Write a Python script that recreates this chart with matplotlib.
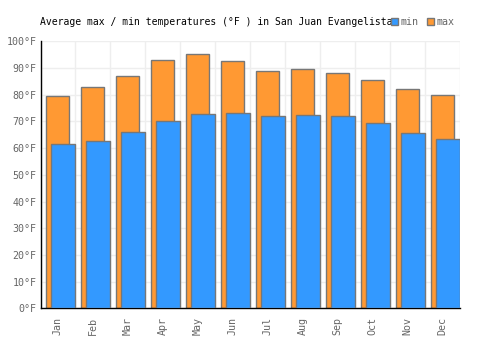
import matplotlib
matplotlib.use("Agg")
import matplotlib.pyplot as plt
import numpy as np
from matplotlib.patches import Patch

months = ["Jan", "Feb", "Mar", "Apr", "May", "Jun", "Jul", "Aug", "Sep", "Oct", "Nov", "Dec"]
max_temps = [79.4, 82.8, 86.9, 92.9, 95.1, 92.5, 88.8, 89.5, 88.0, 85.4, 82.0, 79.8]
min_temps = [61.4, 62.5, 65.9, 70.0, 72.7, 73.0, 71.9, 72.3, 71.9, 69.3, 65.5, 63.4]
yticks = list(range(0, 101, 10))

plt.rcParams['font.family'] = ['DejaVu Sans Mono']

fig = plt.figure(figsize=(5, 3.5), dpi=100)
ax = fig.add_axes([0.081, 0.119, 0.839, 0.763])

x = np.arange(len(months))
edge = "#777777"
ax.bar(x - 0.006, max_temps, width=0.66, color="#ff9933", edgecolor=edge, linewidth=1, zorder=2)
ax.bar(x + 0.15, min_temps, width=0.70, color="#3399ff", edgecolor=edge, linewidth=1, zorder=3)

ax.set_xlim(-0.5, 11.5)
ax.set_ylim(0, 100)
ax.set_yticks(yticks)
ax.set_yticklabels([f"{t}°F" for t in yticks], fontsize=7.2, color="#666666")
ax.set_xticks(x)
ax.set_xticklabels(months, rotation=90, fontsize=7.2, color="#666666")
ax.set_xticks(np.arange(-0.5, 12, 1), minor=True)
ax.tick_params(axis="x", which="both", length=0, pad=6)
ax.tick_params(axis="y", length=0, pad=3)
ax.grid(True, axis="y", color="#eeeeee", linewidth=1, zorder=0)
ax.grid(True, axis="x", which="minor", color="#eeeeee", linewidth=1, zorder=0)
ax.grid(False, axis="x", which="major")
ax.set_axisbelow(True)
for s in ["top", "right"]:
    ax.spines[s].set_visible(False)
for s in ["left", "bottom"]:
    ax.spines[s].set_color("black")
    ax.spines[s].set_linewidth(1)

fig.text(0.08, 0.938, "Average max / min temperatures (°F ) in San Juan Evangelista",
         fontsize=7.05, color="black", va="center", ha="left")

handles = [Patch(facecolor="#3399ff", edgecolor=edge, label="min"),
           Patch(facecolor="#ff9933", edgecolor=edge, label="max")]
leg = fig.legend(handles=handles, loc="center left", bbox_to_anchor=(0.781, 0.938), ncol=2,
                 frameon=False, fontsize=7.2, handlelength=0.7, handleheight=0.7,
                 handletextpad=0.3, columnspacing=0.8, borderpad=0, borderaxespad=0)
for t in leg.get_texts():
    t.set_color("#666666")

fig.savefig("out.png", dpi=100)
